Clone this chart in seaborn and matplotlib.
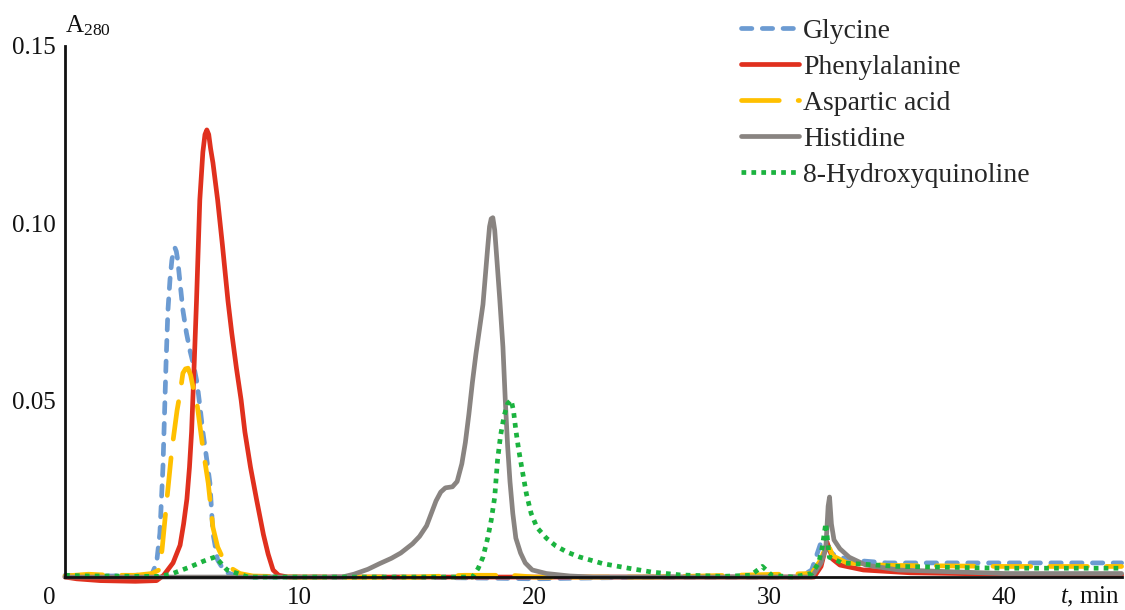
import numpy as np
import matplotlib.pyplot as plt
import seaborn as sns

# retention time (min) / absorbance at 280 nm
gly_t = [0, 1, 2, 3, 3.7, 3.9, 4.04, 4.17, 4.3, 4.38, 4.47, 4.55, 4.62, 4.68, 4.74, 4.8,
         4.9, 5.02, 5.17, 5.32, 5.47, 5.62, 5.75, 5.87, 6.02, 6.17, 6.3, 6.5, 6.8, 7.3, 8,
         10, 14, 18, 20, 25, 30, 31.3, 31.8, 32.2, 32.45, 32.8, 33.5, 35, 40, 45]
gly_a = [0.0005, 0.0004, 0.0003, 0.0005, 0.0008, 0.004, 0.0124, 0.031, 0.06, 0.075, 0.084,
         0.0895, 0.092, 0.093, 0.092, 0.0895, 0.083, 0.0754, 0.069, 0.064, 0.06, 0.055,
         0.048, 0.041, 0.034, 0.0266, 0.0124, 0.0048, 0.0015, 0.0003, 0, 0, 0, -0.0003,
         -0.0005, 0, 0, 0, 0.002, 0.0099, 0.008, 0.006, 0.0048, 0.004, 0.004, 0.004]

phe_t = [0, 0.5, 1.5, 3, 3.9, 4.2, 4.6, 4.9, 5.05, 5.19, 5.3, 5.39, 5.5, 5.6, 5.74, 5.87,
         5.96, 6.04, 6.12, 6.2, 6.3, 6.5, 6.7, 6.94, 7.1, 7.3, 7.5, 7.66, 7.9, 8.16, 8.45,
         8.65, 8.86, 9.1, 9.5, 12, 20, 25, 31.9, 32.2, 32.45, 32.7, 33, 34, 36, 40, 45]
phe_a = [0, -0.0005, -0.001, -0.0012, -0.001, 0.0005, 0.004, 0.009, 0.015, 0.022, 0.031,
         0.041, 0.06, 0.078, 0.1065, 0.12, 0.125, 0.1263, 0.125, 0.121, 0.117, 0.1065,
         0.094, 0.078, 0.069, 0.059, 0.05, 0.041, 0.031, 0.0218, 0.012, 0.0065, 0.002,
         0.0005, 0, 0, 0, 0, 0, 0.003, 0.0099, 0.005, 0.0034, 0.002, 0.0012, 0.0008, 0.0006]

asp_t = [0, 1, 2, 3, 3.7, 4.0, 4.13, 4.34, 4.55, 4.77, 4.9, 5.02, 5.13, 5.24, 5.35, 5.45,
         5.6, 5.88, 6.1, 6.3, 6.5, 6.7, 7.0, 7.45, 8, 10, 15, 17, 19, 20, 25, 31.8, 32.2,
         32.45, 32.7, 33.3, 35, 40, 45]
asp_a = [0.0003, 0.0008, 0.0005, 0.0005, 0.001, 0.002, 0.0076, 0.022, 0.036, 0.047, 0.052,
         0.0576, 0.0588, 0.059, 0.057, 0.0537, 0.05, 0.036, 0.0265, 0.014, 0.0085, 0.0056,
         0.0028, 0.001, 0.0003, 0, 0, 0.0005, 0.0005, 0, 0, 0.001, 0.005, 0.010, 0.006,
         0.004, 0.0033, 0.003, 0.003]

his_t = [0, 5, 10, 11.8, 12.3, 12.9, 13.4, 13.9, 14.3, 14.8, 15.1, 15.4, 15.6, 15.8, 16.0,
         16.2, 16.5, 16.7, 16.9, 17.05, 17.2, 17.35, 17.5, 17.65, 17.8, 17.9, 18.0, 18.08,
         18.15, 18.22, 18.3, 18.4, 18.52, 18.65, 18.75, 18.85, 18.95, 19.07, 19.2, 19.4,
         19.6, 19.9, 20.5, 21.5, 22.5, 25, 31.8, 32.2, 32.4, 32.5, 32.56, 32.64, 32.75,
         33.0, 33.4, 34.1, 35.5, 40, 45]
his_a = [0, 0, 0, 0, 0.0008, 0.0022, 0.0038, 0.0053, 0.0068, 0.0094, 0.0115, 0.0145, 0.018,
         0.0215, 0.024, 0.0252, 0.0255, 0.027, 0.032, 0.038, 0.046, 0.055, 0.063, 0.07,
         0.077, 0.085, 0.093, 0.099, 0.1012, 0.1015, 0.098, 0.089, 0.078, 0.065, 0.05,
         0.037, 0.027, 0.018, 0.011, 0.0068, 0.004, 0.002, 0.001, 0.0003, 0, 0, 0, 0.004,
         0.008, 0.02, 0.0226, 0.015, 0.0105, 0.008, 0.0056, 0.0034, 0.002, 0.001, 0.001]

hq_t = [0, 1, 2, 3, 4, 4.5, 5.3, 5.9, 6.4, 6.9, 7.8, 10, 15, 17.36, 17.6, 17.8, 18.0,
        18.15, 18.3, 18.42, 18.55, 18.7, 18.85, 19.0, 19.1, 19.2, 19.32, 19.45, 19.65,
        19.85, 20.1, 20.5, 20.9, 21.4, 21.9, 22.9, 24.0, 25.0, 26.2, 28, 29.2, 29.7, 30.1,
        31, 31.8, 32.1, 32.25, 32.4, 32.55, 33.1, 35.5, 40, 45]
hq_a = [0.0005, 0.0003, 0.0003, 0.0002, 0.0002, 0.0008, 0.0028, 0.0045, 0.0057, 0.002, 0,
        0, 0, 0, 0.0025, 0.0056, 0.011, 0.016, 0.0226, 0.033, 0.04, 0.0455, 0.049, 0.050,
        0.047, 0.0415, 0.036, 0.031, 0.0235, 0.018, 0.014, 0.011, 0.0088, 0.007, 0.0057,
        0.0038, 0.0025, 0.0014, 0.0006, 0.0002, 0.0005, 0.003, 0.0005, 0, 0.001, 0.004,
        0.0085, 0.0152, 0.0056, 0.004, 0.003, 0.0025, 0.0025]

sns.set_style("white")
plt.rcParams['font.family'] = ['Liberation Serif', 'DejaVu Serif']
plt.rcParams['mathtext.fontset'] = 'custom'
plt.rcParams['mathtext.rm'] = 'Liberation Serif'
plt.rcParams['mathtext.it'] = 'Liberation Serif:italic'
plt.rcParams['mathtext.default'] = 'regular'

fs = 18
lw = 3.4

fig = plt.figure(figsize=(11.25, 6.1), dpi=100)
ax = fig.add_axes([0.0578, 0.054, 0.9392, 0.8706])

sns.lineplot(x=gly_t, y=gly_a, ax=ax, color="#6c9bd2", linewidth=lw, label="Glycine",
             linestyle=(0, (2.2, 2.2)), dash_capstyle="round", clip_on=False)
sns.lineplot(x=phe_t, y=phe_a, ax=ax, color="#e0301e", linewidth=lw, label="Phenylalanine",
             clip_on=False)
sns.lineplot(x=asp_t, y=asp_a, ax=ax, color="#ffc000", linewidth=lw, label="Aspartic acid",
             linestyle=(0, (8.0, 4.0)), dash_capstyle="round", clip_on=False)
sns.lineplot(x=his_t, y=his_a, ax=ax, color="#898481", linewidth=lw, label="Histidine",
             clip_on=False)
sns.lineplot(x=hq_t, y=hq_a, ax=ax, color="#1bb33f", linewidth=lw, label="8-Hydroxyquinoline",
             linestyle=(0, (1.0, 1.1)), clip_on=False)

ax.set_xlim(0, 45)
ax.set_ylim(0, 0.15)
ax.set_xticks([10, 20, 30, 40])
ax.set_yticks([0.05, 0.10, 0.15])
ax.set_yticklabels(["0.05", "0.10", "0.15"])
sns.despine(ax=ax)
for s in ("left", "bottom"):
    ax.spines[s].set_linewidth(2.0)
    ax.spines[s].set_color("#111111")
ax.tick_params(axis="both", direction="in", length=6, width=1.4, color="#111111",
               labelsize=fs, labelcolor="#111111")
ax.tick_params(axis="x", pad=7)
ax.tick_params(axis="y", pad=7)
ax.set_xlabel("")
ax.set_ylabel("")

ax.annotate("0", xy=(0, 0), xycoords="axes fraction", xytext=(-11, -7),
            textcoords="offset points", ha="center", va="top", fontsize=fs, color="#111111")
ax.annotate(r"$\mathit{t}$, min", xy=(1, 0), xycoords="axes fraction", xytext=(-1, -6),
            textcoords="offset points", ha="right", va="top", fontsize=fs, color="#111111")
ax.annotate(r"A$_{280}$", xy=(0, 1), xycoords="axes fraction", xytext=(0, 10),
            textcoords="offset points", ha="left", va="baseline", fontsize=fs, color="#111111")

ax.legend(loc="upper left", bbox_to_anchor=(0.646, 0.992), bbox_transform=fig.transFigure,
          frameon=False, fontsize=20, handlelength=2.1, handletextpad=0.15,
          labelspacing=0.38, borderpad=0)

fig.savefig("out.png", dpi=100)
